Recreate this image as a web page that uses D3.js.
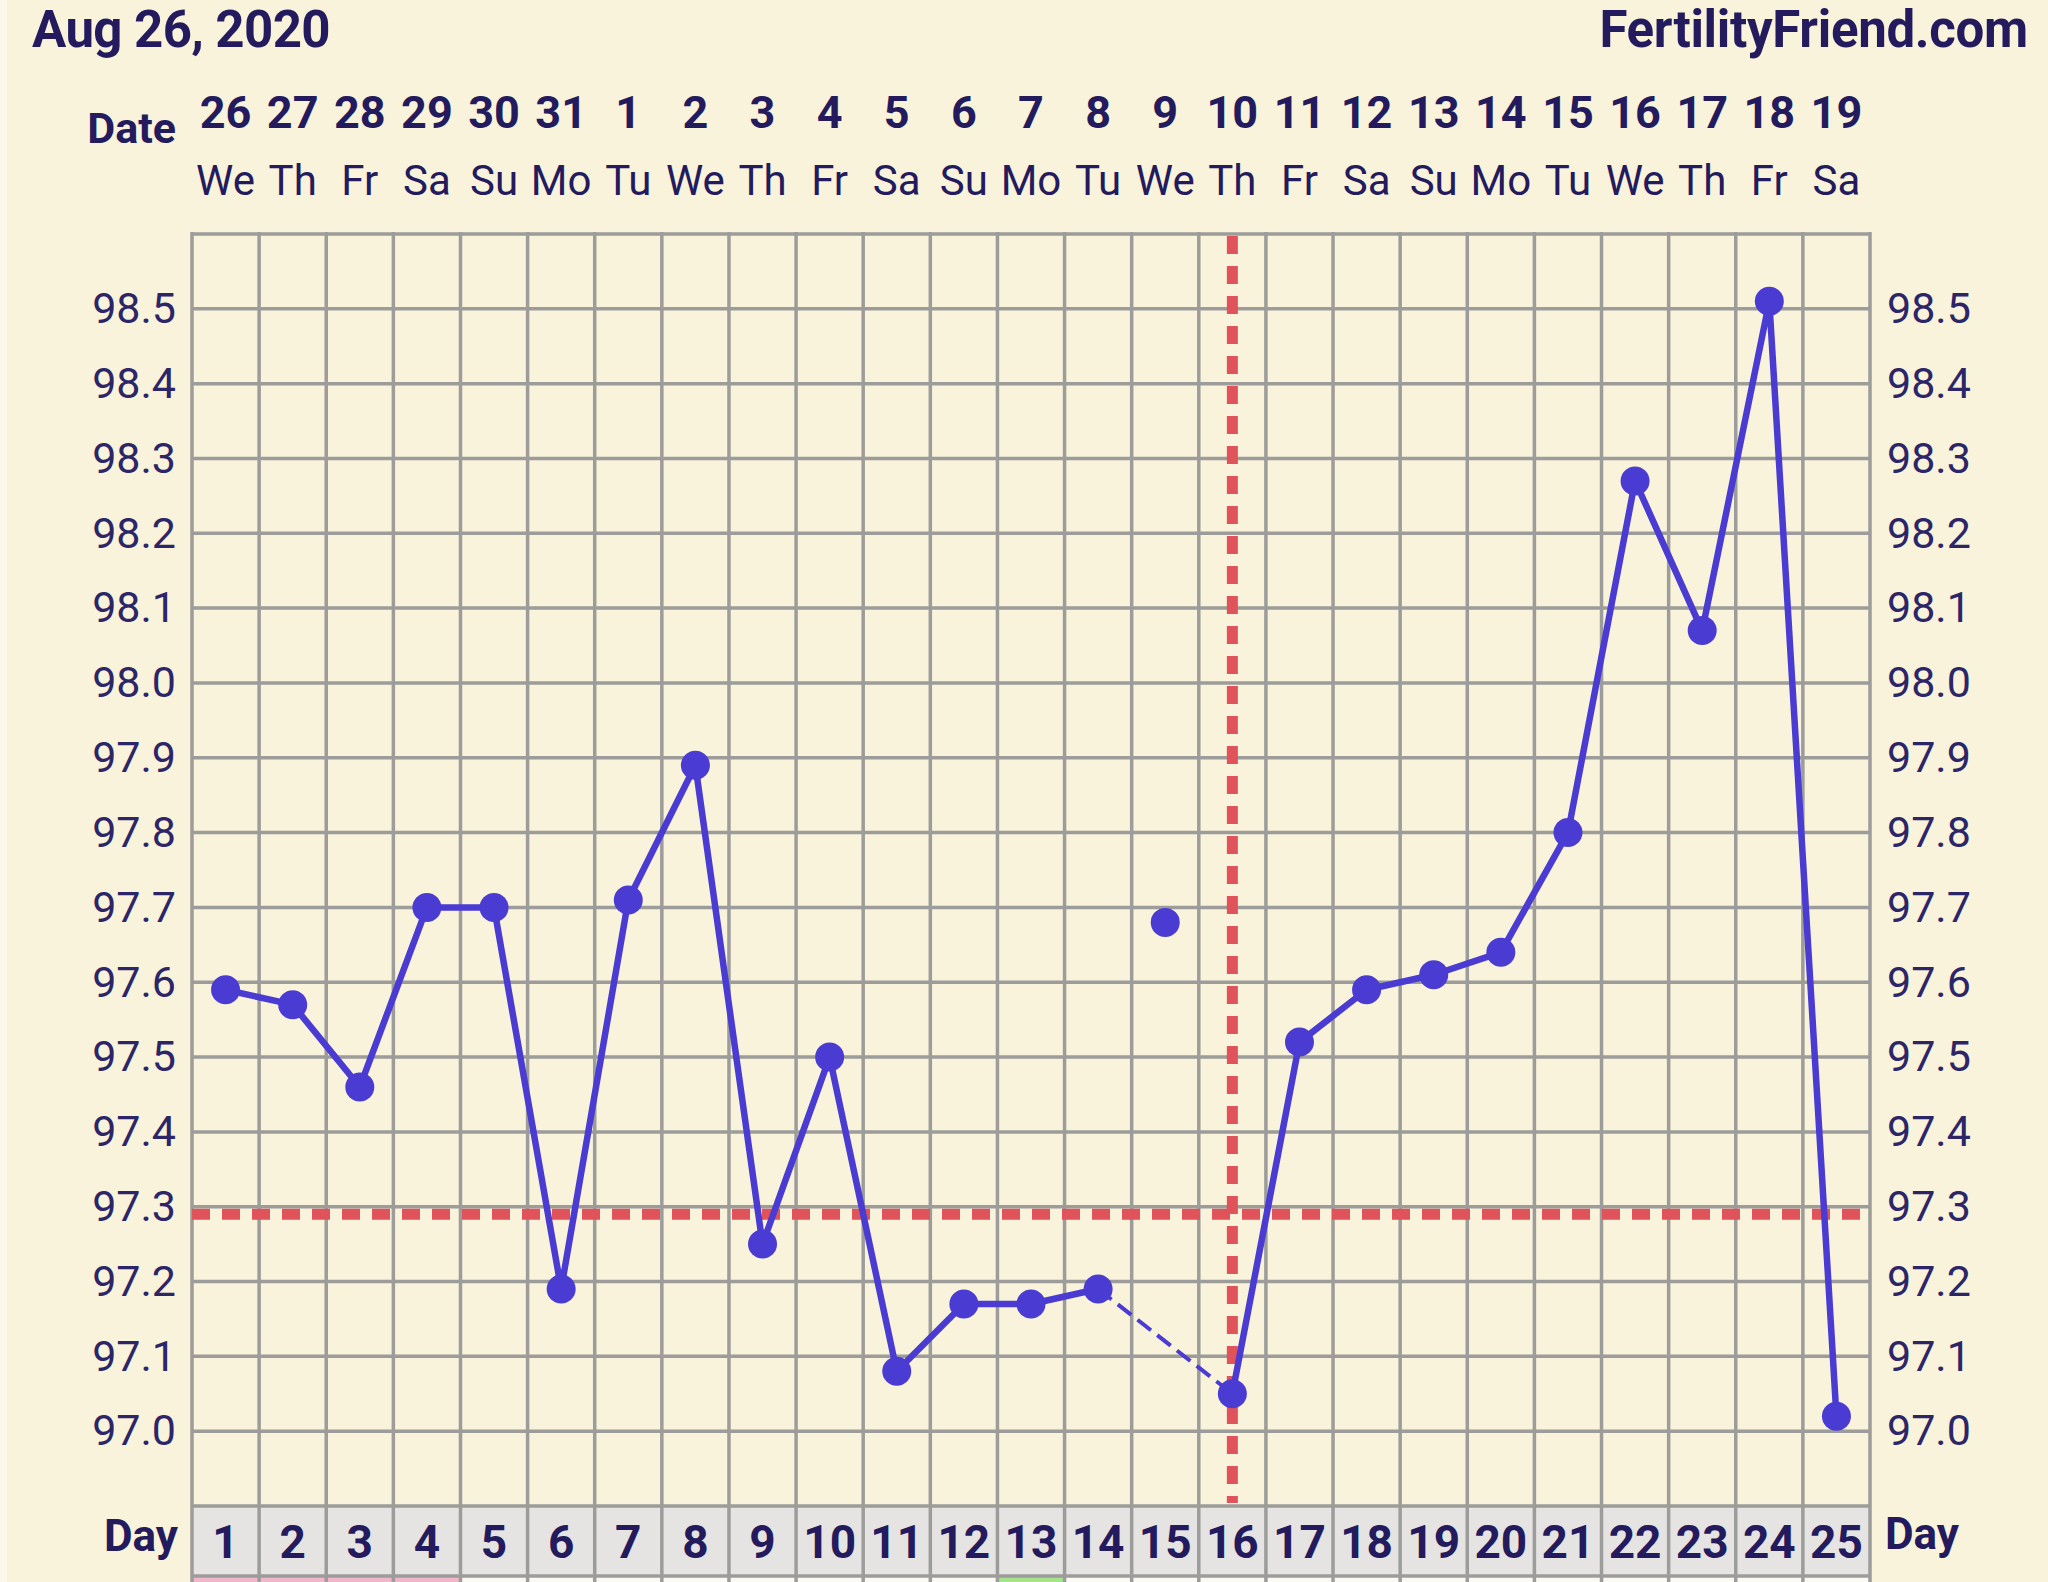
<!DOCTYPE html>
<html><head><meta charset="utf-8">
<script src="https://cdn.jsdelivr.net/npm/d3@7"></script>
<style>html,body{margin:0;padding:0;background:#F8F3DA;}svg{display:block;}</style>
</head><body>
<script>
const titleText = "Aug 26, 2020";
const siteText = "FertilityFriend.com";
const cycleDays = [1,2,3,4,5,6,7,8,9,10,11,12,13,14,15,16,17,18,19,20,21,22,23,24,25];
const dates = ["26","27","28","29","30","31","1","2","3","4","5","6","7","8","9","10","11","12","13","14","15","16","17","18","19"];
const weekdays = ["We","Th","Fr","Sa","Su","Mo","Tu","We","Th","Fr","Sa","Su","Mo","Tu","We","Th","Fr","Sa","Su","Mo","Tu","We","Th","Fr","Sa"];
const temps = [97.59,97.57,97.46,97.70,97.70,97.19,97.71,97.89,97.25,97.50,97.08,97.17,97.17,97.19,97.68,97.05,97.52,97.59,97.61,97.64,97.80,98.27,98.07,98.51,97.02];
const discardedDays = [15];
const yTicks = [98.5,98.4,98.3,98.2,98.1,98.0,97.9,97.8,97.7,97.6,97.5,97.4,97.3,97.2,97.1,97.0];
const gridValues = [98.6,98.5,98.4,98.3,98.2,98.1,98.0,97.9,97.8,97.7,97.6,97.5,97.4,97.3,97.2,97.1,97.0,96.9];
const coverline = 97.29;
const ovulationDay = 16;
const periodDays = [1,2,3,4];
const markedDays = [13];

const W = 2048, H = 1582;
const navy = "#231B5E", lineCol = "#4A3BD2", red = "#E0535B", gridCol = "#9C9C9A";
const svg = d3.select("body").append("svg").attr("width", W).attr("height", H);
svg.append("rect").attr("width", W).attr("height", H).attr("fill", "#F8F3DA");
svg.append("rect").attr("width", 7).attr("height", H).attr("fill", "#FBF8EA");

const x = d3.scaleBand().domain(cycleDays).range([192, 1870]).padding(0);
const bw = x.bandwidth();
const cx = d => x(d) + bw / 2;
const y = d3.scaleLinear().domain([96.9, 98.6]).range([1506, 234]);
const dayTop = y(96.9), dayBot = 1576;

// bottom colored row
svg.append("g").selectAll("rect").data(cycleDays).join("rect")
  .attr("x", d => x(d)).attr("y", dayBot).attr("width", bw).attr("height", H - dayBot)
  .attr("fill", d => periodDays.includes(d) ? "#F3B5CA" : markedDays.includes(d) ? "#A6E38C" : "#FBFAF2");
// day row
svg.append("rect").attr("x", x(1)).attr("y", dayTop).attr("width", bw * cycleDays.length)
  .attr("height", dayBot - dayTop).attr("fill", "#E5E4E2");

// grid
const grid = svg.append("g").attr("stroke", gridCol).attr("stroke-width", 3.5);
grid.selectAll("line.h").data(gridValues.concat([null])).join("line")
  .attr("x1", x(1)).attr("x2", x(1) + bw * 25)
  .attr("y1", d => d === null ? dayBot : y(d)).attr("y2", d => d === null ? dayBot : y(d));
grid.selectAll("line.v").data(d3.range(cycleDays.length + 1)).join("line")
  .attr("x1", i => x(1) + i * bw).attr("x2", i => x(1) + i * bw)
  .attr("y1", y(98.6) - 2).attr("y2", H);

// coverline & ovulation line
svg.append("line").attr("x1", x(1)).attr("x2", x(1) + bw * 25)
  .attr("y1", y(coverline)).attr("y2", y(coverline))
  .attr("stroke", red).attr("stroke-width", 11).attr("stroke-dasharray", "18,12");
svg.append("line").attr("x1", cx(ovulationDay)).attr("x2", cx(ovulationDay))
  .attr("y1", y(98.6) + 2).attr("y2", dayTop - 3)
  .attr("stroke", red).attr("stroke-width", 11).attr("stroke-dasharray", "18,12");

// temperature line
const pts = cycleDays.map((d, i) => ({day: d, t: temps[i]}));
const used = pts.filter(p => !discardedDays.includes(p.day));
const line = d3.line().x(p => cx(p.day)).y(p => y(p.t));
const solidSegs = [], dashSegs = [];
let cur = [used[0]];
for (let i = 1; i < used.length; i++) {
  if (used[i].day - used[i - 1].day === 1) cur.push(used[i]);
  else { solidSegs.push(cur); dashSegs.push([used[i - 1], used[i]]); cur = [used[i]]; }
}
solidSegs.push(cur);
svg.append("g").selectAll("path").data(dashSegs).join("path")
  .attr("d", line).attr("fill", "none").attr("stroke", lineCol).attr("stroke-width", 4)
  .attr("stroke-dasharray", "17,8");
svg.append("g").selectAll("path").data(solidSegs).join("path")
  .attr("d", line).attr("fill", "none").attr("stroke", lineCol).attr("stroke-width", 6.5)
  .attr("stroke-linejoin", "round");
svg.append("g").selectAll("circle").data(pts).join("circle")
  .attr("cx", p => cx(p.day)).attr("cy", p => y(p.t)).attr("r", 14.5).attr("fill", lineCol);

// text
const font = "Roboto, 'Noto Sans', sans-serif";
svg.append("text").attr("x", 32).attr("y", 47).text(titleText)
  .attr("font-family", font).attr("font-weight", 700).attr("font-size", 51).attr("letter-spacing", -0.6).attr("fill", navy);
svg.append("text").attr("x", 2028).attr("y", 47).attr("text-anchor", "end").text(siteText)
  .attr("font-family", font).attr("font-weight", 700).attr("font-size", 51).attr("letter-spacing", -0.3).attr("fill", navy);
svg.append("text").attr("x", 176).attr("y", 143).attr("text-anchor", "end").text("Date")
  .attr("font-family", font).attr("font-weight", 700).attr("font-size", 43).attr("fill", navy);
svg.append("g").selectAll("text").data(cycleDays).join("text")
  .attr("x", d => cx(d)).attr("y", 128).attr("text-anchor", "middle").text((d, i) => dates[i])
  .attr("font-family", font).attr("font-weight", 700).attr("font-size", 45).attr("fill", navy);
svg.append("g").selectAll("text").data(cycleDays).join("text")
  .attr("x", d => cx(d)).attr("y", 195).attr("text-anchor", "middle").text((d, i) => weekdays[i])
  .attr("font-family", font).attr("font-weight", 400).attr("font-size", 42).attr("fill", navy);

const yAxisL = d3.axisLeft(y).tickValues(yTicks).tickFormat(d3.format(".1f")).tickSize(0).tickPadding(0);
const gl = svg.append("g").attr("transform", "translate(176,0)").call(yAxisL);
const yAxisR = d3.axisRight(y).tickValues(yTicks).tickFormat(d3.format(".1f")).tickSize(0).tickPadding(0);
const gr = svg.append("g").attr("transform", "translate(1887,0)").call(yAxisR);
[gl, gr].forEach(g => {
  g.select(".domain").remove();
  g.selectAll("text").attr("font-family", font).attr("font-size", 43).attr("fill", "#2C2669").attr("dy", "0.32em");
});

svg.append("g").selectAll("text").data(cycleDays).join("text")
  .attr("x", d => cx(d)).attr("y", 1558).attr("text-anchor", "middle").text(d => d)
  .attr("font-family", font).attr("font-weight", 700).attr("font-size", 46).attr("fill", navy);
svg.append("text").attr("x", 178).attr("y", 1551).attr("text-anchor", "end").text("Day")
  .attr("font-family", font).attr("font-weight", 700).attr("font-size", 44).attr("fill", navy);
svg.append("text").attr("x", 1885).attr("y", 1549).text("Day")
  .attr("font-family", font).attr("font-weight", 700).attr("font-size", 44).attr("fill", navy);
</script>
</body></html>
